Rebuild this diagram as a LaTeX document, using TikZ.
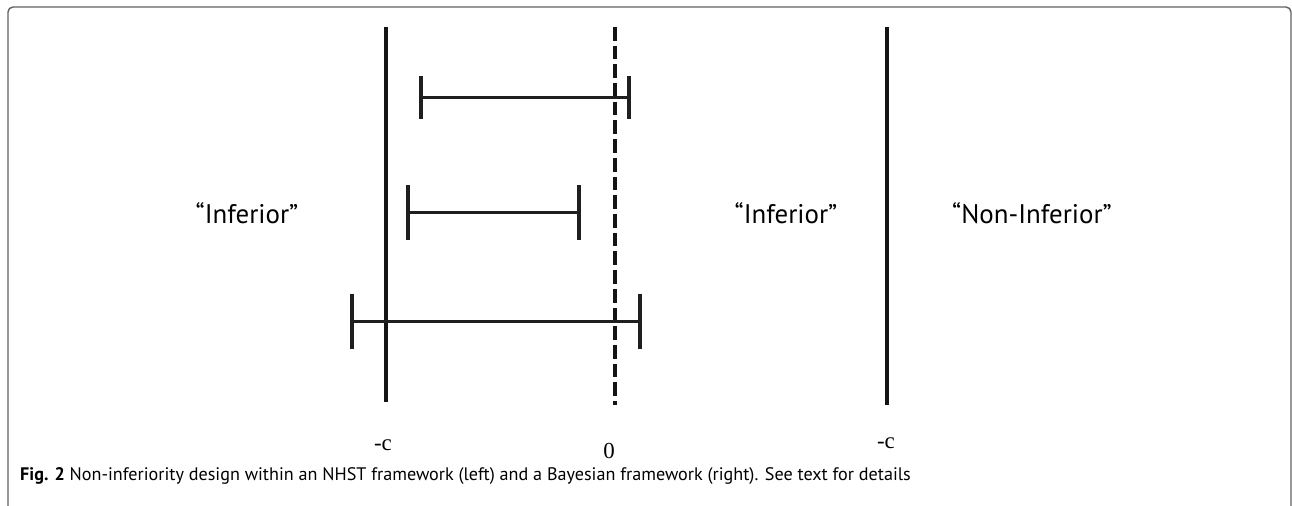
\documentclass[tikz,border=0pt]{standalone}
\usepackage{fontspec}
\setmainfont{PT Sans}
\newfontfamily\tnr{Liberation Serif}
\begin{document}
\begin{tikzpicture}[x=1bp,y=-1bp,
  frame/.style={draw=black!62,line width=1.4bp,rounded corners=5bp},
  bound/.style={line width=4.5bp,black!92},
  zeroline/.style={line width=4bp,black!92,dash pattern=on 13.7bp off 5bp},
  ci/.style={line width=3bp,black!88},
  capline/.style={line width=3.5bp,black!88},
  region/.style={font=\fontsize{27}{32}\selectfont,inner sep=0pt},
  axislab/.style={font=\tnr\fontsize{23}{27}\selectfont,inner sep=0pt},
  caption/.style={font=\fontsize{18.2}{22}\selectfont,inner sep=0pt,anchor=base west}]
\useasboundingbox (0,0) rectangle (1292,506);
\clip (0,0) rectangle (1292,506);
\draw[frame] (8,540) -- (8,7) -- (1291,7) -- (1291,540);
% vertical reference lines
\coordinate (cL1) at (386,27); \coordinate (cL2) at (386,402);
\coordinate (z1) at (615,27); \coordinate (z2) at (615,405);
\coordinate (cR1) at (887,27); \coordinate (cR2) at (887,405);
\draw[bound] (cL1) -- (cL2);
\draw[zeroline] (z1) -- (z2);
\draw[bound] (cR1) -- (cR2);
% interval 1
\coordinate (a1) at (421,98); \coordinate (b1) at (629,98);
\draw[ci] (a1) -- (b1);
\draw[capline] ([yshift=21.5bp]a1) -- ([yshift=-21.5bp]a1);
\draw[capline] ([yshift=21.5bp]b1) -- ([yshift=-21.5bp]b1);
% interval 2
\coordinate (a2) at (408,213); \coordinate (b2) at (579,213);
\draw[ci] (a2) -- (b2);
\draw[capline] ([yshift=27.5bp]a2) -- ([yshift=-27.5bp]a2);
\draw[capline] ([yshift=27.5bp]b2) -- ([yshift=-27.5bp]b2);
% interval 3
\coordinate (a3) at (352,322); \coordinate (b3) at (640,322);
\draw[ci] (a3) -- (b3);
\draw[capline] ([yshift=27.5bp]a3) -- ([yshift=-27.5bp]a3);
\draw[capline] ([yshift=27.5bp]b3) -- ([yshift=-27.5bp]b3);
% region labels
\node[region] (inf1) at (247,213) {“Inferior”};
\node[region] (inf2) at (786,213) {“Inferior”};
\node[region] (ninf) at (1032,213) {“Non-Inferior”};
% axis labels
\node[axislab,anchor=base] (lc1) at (383,450) {-c};
\node[axislab,anchor=base] (l0) at (609,458) {0};
\node[axislab,anchor=base] (lc2) at (886,448) {-c};
% caption
\node[caption] (cap) at (20,480) {\textbf{Fig. 2} Non-inferiority design within an NHST framework (left) and a Bayesian framework (right). See text for details};
\end{tikzpicture}
\end{document}
